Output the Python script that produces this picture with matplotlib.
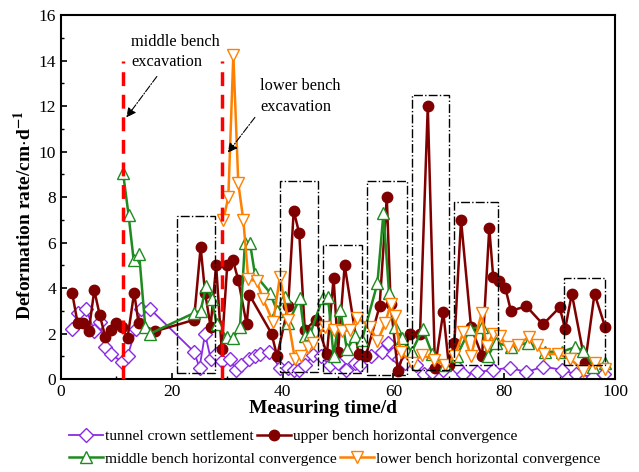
import matplotlib
matplotlib.use("Agg")
import matplotlib.pyplot as plt
from matplotlib.lines import Line2D
from matplotlib.patches import Rectangle
from matplotlib.ticker import MultipleLocator

plt.rcParams["font.family"] = ["Liberation Serif", "DejaVu Serif"]
plt.rcParams["mathtext.fontset"] = "stix"

# ── series ────────────────────────────────────────────────────────────────────
crown_t = [2, 3, 4.5, 6, 7, 8, 9, 11, 12, 13.5, 14.5, 16, 24, 25, 26, 27, 28, 29,
           30.5, 31.5, 32.5, 34, 35, 36, 37.5, 39.5, 41, 42, 43, 44, 45.5, 47, 48.5,
           50, 51.5, 53, 54, 56, 58, 59, 60, 61, 62, 64, 65.5, 67, 69, 71.5, 72.5,
           75, 78, 81, 84, 87, 90.5, 93, 96, 98]
crown_v = [2.2, 2.9, 3.1, 2.1, 2.5, 1.4, 1.1, 0.75, 1.0, 2.2, 3.1, 3.1, 1.2, 0.5,
           2.0, 0.9, 1.1, 0.8, 0.9, 0.4, 0.6, 0.9, 1.0, 1.1, 1.2, 0.5, 0.5, 0.4, 0.4,
           0.6, 1.05, 1.0, 0.6, 0.7, 0.4, 0.7, 0.6, 1.0, 1.2, 1.6, 1.1, 0.9, 0.7,
           0.6, 0.2, 0.3, 0.4, 0.55, 0.2, 0.3, 0.4, 0.5, 0.3, 0.55, 0.4, 0.2, 0.1, 0.2]

upper_t = [2, 3, 4, 5, 6, 7, 8, 9, 10, 11, 12, 13.2, 14, 17, 24, 25.2, 26, 27, 28,
           29, 30, 31, 32, 33.5, 34, 38, 39, 41, 42, 43, 44, 46, 48, 49.2, 50, 51.2,
           53.7, 55, 57.5, 58.8, 59.5, 60.8, 63, 64.8, 66.2, 67.5, 69, 70, 71, 72.2,
           74, 76, 77.3, 78, 79, 80.2, 81.2, 84, 87, 90, 91, 92.2, 94.6, 96.3, 98.2]
upper_v = [3.8, 2.45, 2.45, 2.1, 3.9, 2.8, 1.85, 2.15, 2.45, 2.3, 1.8, 3.8, 2.45,
           2.1, 2.6, 5.8, 3.8, 2.3, 5.0, 1.3, 5.0, 5.25, 4.35, 2.4, 3.7, 2.0, 1.0,
           3.2, 7.4, 6.4, 2.15, 2.6, 1.1, 4.45, 1.2, 5.0, 1.1, 1.0, 3.2, 8.0, 3.3,
           0.35, 2.0, 2.0, 12.0, 0.5, 2.95, 0.6, 1.6, 7.0, 2.3, 1.0, 6.65, 4.5, 4.3,
           4.0, 3.0, 3.2, 2.4, 3.15, 2.2, 3.75, 0.7, 3.75, 2.3]

middle_t = [11.2, 12.2, 13.1, 14.1, 15.2, 16.1, 24, 25.2, 26.2, 27.2, 28.1, 29.9,
            31.1, 32.3, 33.2, 34.1, 35, 37.7, 39, 40.4, 41, 43.1, 44, 45, 47.2, 48.2,
            49.2, 50.4, 51.6, 53.1, 54.3, 57.1, 58.2, 59.2, 60.3, 61.5, 63.3, 65.3,
            67, 69.3, 71.4, 73.8, 75.9, 77, 78.5, 81.3, 84.3, 87.4, 90.4, 92.8, 94.3,
            96.1, 98.2]
middle_v = [9.05, 7.2, 5.25, 5.5, 2.3, 2.0, 2.9, 3.0, 4.1, 3.5, 2.4, 1.85, 1.8, 2.3,
            6.0, 6.0, 4.6, 3.8, 3.0, 3.6, 2.45, 3.55, 1.9, 2.0, 3.55, 3.6, 1.0, 3.05,
            1.3, 1.9, 1.7, 4.2, 7.3, 3.8, 2.3, 1.8, 1.2, 2.2, 1.1, 0.6, 1.0, 2.2, 2.3,
            1.0, 1.6, 1.4, 1.6, 1.2, 1.2, 1.4, 1.25, 0.55, 0.7]

lower_t = [29.3, 30.2, 31.1, 32, 32.9, 33.8, 35.3, 36.5, 38.3, 39.5, 41, 42.2, 43.4,
           44.6, 45.5, 47.6, 49.2, 50.7, 52.2, 53.4, 55.8, 57.1, 58.5, 59.5, 60.2,
           61.3, 63.3, 65.2, 67.3, 69.3, 71, 72.6, 74, 75.9, 76.8, 78, 79.2, 80.7,
           82.5, 84.4, 86, 87.2, 89.7, 91.9, 94.3, 96.4, 98.2]
lower_v = [7.0, 8.0, 14.25, 8.6, 7.0, 4.4, 4.3, 3.5, 2.5, 4.5, 2.6, 0.9, 1.0, 1.4,
           1.6, 2.3, 2.15, 2.1, 2.15, 2.7, 2.3, 1.65, 2.45, 3.3, 2.75, 1.2, 0.7, 1.05,
           0.85, 0.6, 1.0, 2.05, 1.0, 2.9, 1.45, 2.0, 1.9, 1.4, 1.5, 1.85, 1.5, 1.1,
           1.1, 0.9, 0.35, 0.7, 0.45]

# excavation start days
excav_days = [11.2, 29.0]
excav_top = 14.0

# dash-dot boxes: (t0, t1, v0, v1)
boxes = [(20.9, 27.8, 0.28, 7.18), (39.5, 46.4, 0.32, 8.7), (47.3, 54.3, 0.25, 5.9),
         (55.2, 62.4, 0.18, 8.7), (63.3, 70.0, 0.4, 12.48), (70.9, 78.9, 0.6, 7.8),
         (90.7, 98.2, 0.6, 4.44)]

PURPLE = "#8a2be2"
DRED = "#800000"
GREEN = "#1f8a1f"
ORANGE = "#ff8000"

fig = plt.figure(figsize=(6.39, 4.72), dpi=100)
ax = fig.add_axes([0.0955, 0.197, 0.867, 0.771])

s_crown = dict(color=PURPLE, lw=1.3, marker="D", ms=7, mfc="white", mec=PURPLE, mew=1.0)
s_upper = dict(color=DRED, lw=1.8, marker="o", ms=7.5, mfc=DRED, mec=DRED)
s_middle = dict(color=GREEN, lw=1.8, marker="^", ms=8.5, mfc="white", mec=GREEN, mew=1.0)
s_lower = dict(color=ORANGE, lw=1.8, marker="v", ms=8.5, mfc="white", mec=ORANGE, mew=1.0)

ax.plot(crown_t, crown_v, **s_crown)
ax.plot(upper_t, upper_v, **s_upper)
ax.plot(middle_t, middle_v, **s_middle)
ax.plot(lower_t, lower_v, **s_lower)

for d in excav_days:
    ax.plot([d, d], [0, excav_top], color="red", lw=2.5, ls=(0, (4, 2.5)), zorder=4)

for t0, t1, v0, v1 in boxes:
    ax.add_patch(Rectangle((t0, v0), t1 - t0, v1 - v0, fill=False, ec="black",
                           lw=1.0, ls="-.", zorder=5))

ax.text(12.7, 14.8, "middle bench", fontsize=11.8, va="center")
ax.text(12.7, 13.95, "excavation", fontsize=11.8, va="center")
ax.annotate("", xy=(11.5, 11.4), xytext=(17.6, 13.4),
            arrowprops=dict(arrowstyle="-|>", ls="-.", color="black", lw=0.8,
                            mutation_scale=14))
ax.text(35.9, 12.9, "lower bench", fontsize=11.8, va="center")
ax.text(35.9, 11.95, "excavation", fontsize=11.8, va="center")
ax.annotate("", xy=(29.8, 9.85), xytext=(35.3, 11.6),
            arrowprops=dict(arrowstyle="-|>", ls="-.", color="black", lw=0.8,
                            mutation_scale=14))

ax.set_xlim(0, 100)
ax.set_ylim(0, 16)
ax.xaxis.set_major_locator(MultipleLocator(20))
ax.xaxis.set_minor_locator(MultipleLocator(10))
ax.yaxis.set_major_locator(MultipleLocator(2))
ax.yaxis.set_minor_locator(MultipleLocator(1))
ax.tick_params(which="both", direction="in", labelsize=12.5)
ax.tick_params(which="major", length=4, width=1.2)
ax.tick_params(which="minor", length=2.5, width=1.0)
for sp in ax.spines.values():
    sp.set_linewidth(1.5)

ax.set_xlabel("Measuring time/d", fontsize=14, fontweight="bold", va="center")
ax.xaxis.set_label_coords(0.473, -0.08)
ax.set_ylabel(r"Deformation rate/cm$\cdot$d$^{\mathbf{-1}}$", fontsize=14,
              fontweight="bold", va="center")
ax.yaxis.set_label_coords(-0.066, 0.45)

h1 = [Line2D([], [], **s_crown), Line2D([], [], **s_upper)]
h2 = [Line2D([], [], **s_middle), Line2D([], [], **s_lower)]
leg_kw = dict(ncol=2, frameon=False, fontsize=11.1, handlelength=2.2, handletextpad=0.15,
              columnspacing=0.2, borderaxespad=0, borderpad=0)
fig.legend(h1, ["tunnel crown settlement", "upper bench horizontal convergence"],
           loc="center left", bbox_to_anchor=(0.108, 0.075), **leg_kw)
fig.legend(h2, ["middle bench horizontal convergence", "lower bench horizontal convergence"],
           loc="center left", bbox_to_anchor=(0.108, 0.028), **leg_kw)

fig.savefig("out.png", dpi=100)
